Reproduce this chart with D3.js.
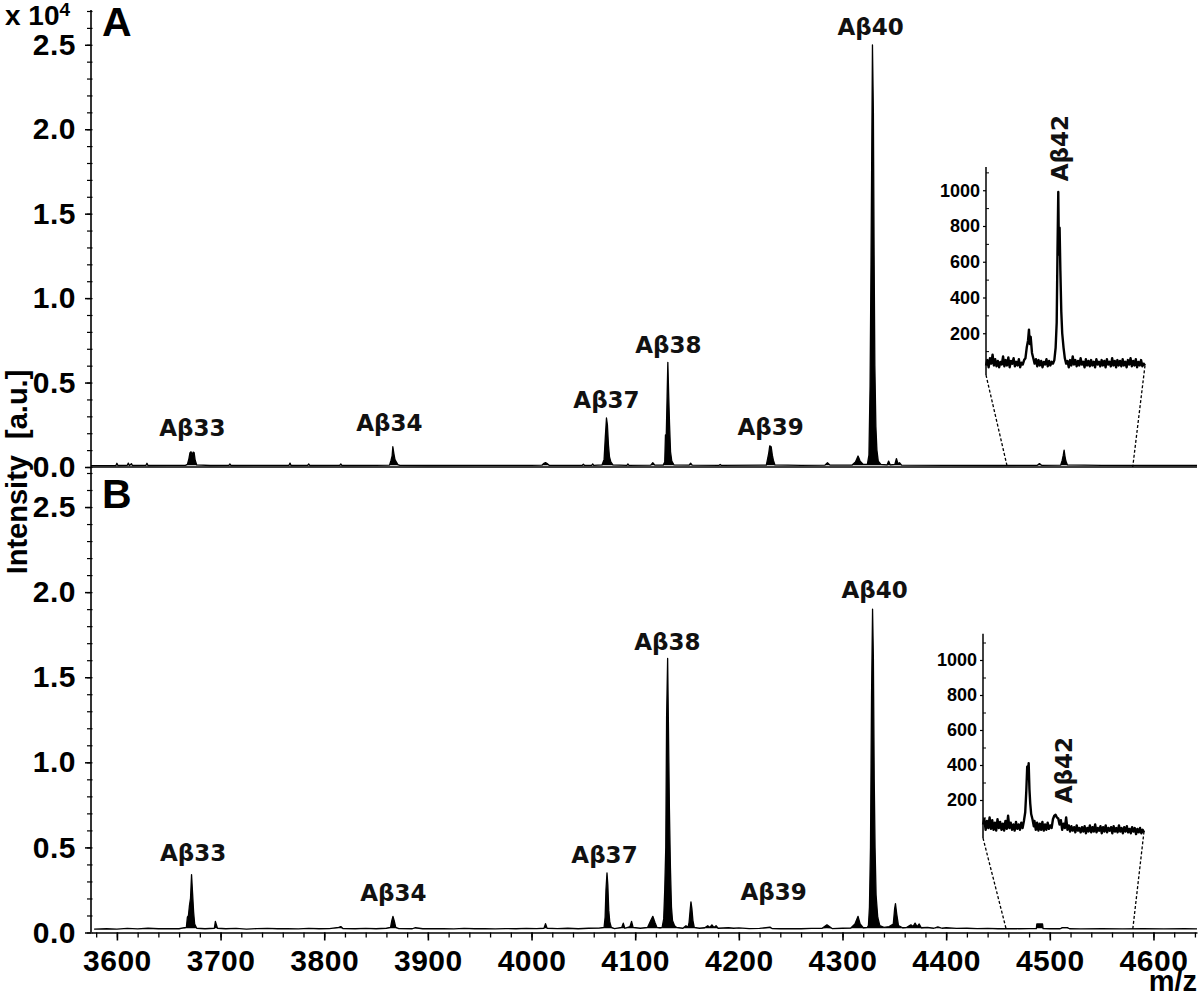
<!DOCTYPE html>
<html><head><meta charset="utf-8">
<script src="https://cdn.jsdelivr.net/npm/d3@7"></script>
<style>body{margin:0;background:#fff}svg{display:block}</style>
</head><body>
<svg id="c" width="1200" height="999"></svg>
<script>
// ---------- data ----------
const mzTicks = [3600,3700,3800,3900,4000,4100,4200,4300,4400,4500,4600];
const mzMinorTicks = d3.range(3580, 4641, 20);
const intensityTicks = [0,5000,10000,15000,20000,25000];
const intensityMinorTicks = d3.range(0, 27001, 1000);
const insetTicks = [200,400,600,800,1000];
const insetMinorTicks = [100,300,500,700,900,1100];

// panel A spectrum [m/z, counts]
const spectrumA = [
[3575,80],[3599,90],[3600,220],[3601,90],[3610,100],[3611,230],[3612,90],[3614,200],[3615,90],[3628,100],[3629,220],[3630,90],[3650,100],[3666,100],
[3668,150],[3669.5,500],[3670.5,850],[3671.5,900],[3672.5,700],[3673.5,880],[3674.5,850],[3675.5,400],[3677,120],
[3690,90],[3708,100],[3709,180],[3710,90],[3766,100],[3767,230],[3768,90],[3784,100],[3785,180],[3786,90],[3815,100],[3816,180],[3817,90],[3850,100],
[3863,110],[3864.5,400],[3865.5,650],[3866.2,1200],[3867.2,800],[3868.2,450],[3869.5,300],[3871,140],[3873,100],
[3900,90],[3950,100],[4000,100],[4010,110],[4012,220],[4013.5,260],[4015,200],[4017,100],[4049,100],[4050,160],[4051,100],[4058,100],[4059,180],[4060,100],
[4068,120],[4070,450],[4071.2,1800],[4072.3,2900],[4073.2,2500],[4074.2,1300],[4075.2,600],[4076.5,300],[4078.5,120],
[4092,100],[4093,180],[4094,100],[4115,110],[4117,250],[4119,110],
[4127,110],[4128.5,300],[4129.2,1900],[4130,1900],[4130.8,4200],[4131.5,6200],[4132.3,4300],[4133.1,2600],[4134.1,900],[4135.3,350],[4137.5,120],
[4152,110],[4153.5,220],[4155,110],[4181,100],[4182,150],[4183,100],
[4226.5,110],[4227.8,500],[4228.8,800],[4229.8,1250],[4231.2,1200],[4232.3,700],[4233.3,400],[4234.8,120],
[4260,100],[4283,110],[4285.5,250],[4288,110],[4309,110],[4312.5,300],[4315,650],[4317,350],[4320,150],
[4324,150],[4325.5,700],[4326.6,4800],[4327.5,12000],[4328.9,25000],[4329.8,21000],[4330.5,12500],[4331.2,6000],[4332.2,2400],[4333.2,1000],[4334.5,350],[4337,150],
[4343,120],[4344.5,350],[4346,130],[4350.5,150],[4352,500],[4353.5,200],[4355,250],[4357,110],
[4400,100],[4450,90],[4488,100],[4490,200],[4492,100],
[4510.5,110],[4512,400],[4513,700],[4513.8,1000],[4514.6,650],[4515.5,350],[4517,120],
[4550,100],[4600,90],[4642,90]
];

// panel B spectrum [m/z, counts]
const spectrumB = [
[3578,200],[3590,220],[3600,200],[3610,240],[3620,210],[3630,250],[3640,220],[3650,230],[3660,220],[3665,280],
[3667,300],[3668,900],[3669,1000],[3670,1600],[3671,2000],[3672,3400],[3673,2300],[3674,1200],[3675,500],[3677,250],
[3685,220],[3694,250],[3695,650],[3697,250],[3705,220],[3715,240],[3725,200],[3735,230],[3745,240],[3755,220],[3765,230],[3775,210],[3785,240],[3795,220],[3805,230],[3814,300],[3816,350],[3818,230],[3830,220],[3840,240],[3850,220],[3860,250],
[3864,300],[3865.2,700],[3866.3,950],[3867.5,700],[3869,300],[3872,230],
[3885,220],[3888,280],[3895,220],[3905,220],[3915,230],[3925,210],[3935,240],[3945,220],[3955,230],[3965,210],[3975,230],[3985,220],[3995,240],[4005,230],
[4012,250],[4013.5,520],[4015,250],[4025,230],[4035,250],[4045,220],[4055,250],[4065,260],
[4070,300],[4071,900],[4071.8,2500],[4072.8,3500],[4073.6,2800],[4074.5,1300],[4075.5,600],[4077,300],
[4080,230],[4087,300],[4088.5,550],[4090,250],[4095,350],[4096.5,650],[4098,300],[4105,250],[4112,300],[4115,700],[4117,950],[4119,600],[4121,300],[4124,280],
[4126,300],[4127.5,800],[4128.5,2500],[4129.5,5000],[4130.3,12600],[4131.3,16100],[4132.1,12000],[4133,7300],[4134,3800],[4135,1500],[4136,700],[4138,400],[4140,300],[4146,250],[4149,400],[4151,300],
[4152,600],[4153,1300],[4153.8,1800],[4154.7,1400],[4155.7,700],[4157,300],
[4162,250],[4167,280],[4170,400],[4172,300],[4174,450],[4176,300],[4178,400],[4180,250],[4190,280],[4195,250],[4200,270],[4210,230],[4220,240],[4230,320],[4232,230],[4240,220],[4250,230],[4260,220],[4270,240],
[4280,240],[4285,450],[4290,230],[4300,250],[4308,260],[4312,500],[4315,950],[4317,500],[4320,280],[4324,300],
[4325,400],[4326,1500],[4327,5000],[4328,13800],[4329,19000],[4329.8,16100],[4330.6,9000],[4331.4,5000],[4332.4,2200],[4334,900],[4336,400],[4340,300],[4345,350],
[4349,500],[4350.3,1400],[4351.1,1700],[4352.3,1100],[4354,400],[4358,280],[4362,300],[4366,450],[4368,350],[4370,550],[4372,350],[4374,500],[4376,280],[4382,300],[4388,250],[4392,330],[4396,250],[4400,280],[4410,240],[4420,250],[4430,230],[4440,240],[4450,220],[4460,230],[4470,220],[4480,230],
[4487,230],[4487.5,500],[4493,500],[4493.5,230],[4500,220],[4510,220],[4512,290],[4517,290],[4519,220],
[4530,210],[4550,220],[4570,210],[4590,220],[4610,210],[4630,220],[4642,210]
];

// inset A (zoom of 4459-4580, counts)
const insetA = [
[4459,20],[4460,50],[4461,10],[4462,60],[4463,30],[4464,80],[4465,20],[4466,55],[4467,15],[4468,45],[4469,10],[4470,40],[4471,25],[4472,70],[4473,15],[4474,50],[4475,20],[4476,65],[4477,10],[4478,45],[4479,30],[4480,60],[4481,15],[4482,40],[4483,20],[4484,55],[4485,10],[4486,35],[4487,25],[4488,50],[4489,60],
[4490,120],[4491,160],[4491.7,220],[4492.3,140],[4493,180],[4494,90],[4495,60],[4496,30],[4497,55],[4498,15],[4499,50],[4500,20],[4501,45],[4502,10],[4503,40],[4504,25],[4505,55],[4506,15],[4507,45],[4508,20],[4509,40],[4510,30],[4511,50],
[4512,120],[4512.8,260],[4513.4,650],[4514,990],[4514.5,640],[4515,790],[4515.6,550],[4516.3,320],[4517,200],[4518,120],[4519,60],
[4520,30],[4521,45],[4522,10],[4523,50],[4524,20],[4525,70],[4526,25],[4527,50],[4528,15],[4529,45],[4530,20],[4531,60],[4532,25],[4533,40],[4534,10],[4535,55],[4536,20],[4537,45],[4538,15],[4539,50],[4540,20],[4541,40],[4542,10],[4543,55],[4544,25],[4545,40],[4546,15],[4547,50],[4548,20],[4549,45],[4550,10],
[4551,55],[4552,25],[4553,40],[4554,15],[4555,60],[4556,20],[4557,45],[4558,10],[4559,50],[4560,20],[4561,45],[4562,15],[4563,55],[4564,20],[4565,40],[4566,10],[4567,50],[4568,25],[4569,60],[4570,15],[4571,45],[4572,20],[4573,55],[4574,10],[4575,40],[4576,20],[4577,50],[4578,15],[4579,30],[4580,20]
];

// inset B (zoom of 4458-4581, counts)
const insetB = [
[4458,60],[4459,90],[4460,30],[4461,80],[4462,40],[4463,100],[4464,35],[4465,85],[4466,30],[4467,70],[4468,25],[4469,90],[4470,40],[4471,75],[4472,30],[4473,65],[4474,25],[4475,80],[4476,35],[4477,110],[4478,40],[4479,70],[4480,30],[4481,60],[4482,25],[4483,75],[4484,35],[4485,60],[4486,30],[4487,70],[4488,40],[4489,80],
[4490,130],[4490.8,250],[4491.5,390],[4492,330],[4492.6,410],[4493.2,260],[4493.8,180],[4494.5,120],[4495.5,90],[4496.5,50],
[4497,80],[4498,30],[4499,70],[4500,25],[4501,65],[4502,30],[4503,75],[4504,25],[4505,60],[4506,30],[4507,70],[4508,35],[4509,55],[4510,40],
[4511,90],[4512,110],[4513,115],[4514,100],[4515,95],[4516,60],[4517,85],[4518,30],[4519,65],[4520,40],[4521,100],[4522,30],[4523,55],[4524,20],[4525,50],[4526,25],[4527,45],[4528,15],[4529,55],[4530,25],[4531,40],[4532,15],[4533,45],[4534,20],[4535,50],[4536,10],[4537,40],[4538,20],[4539,55],[4540,15],
[4541,45],[4542,20],[4543,60],[4544,15],[4545,40],[4546,25],[4547,50],[4548,10],[4549,45],[4550,20],[4551,55],[4552,15],[4553,40],[4554,25],[4555,45],[4556,10],[4557,50],[4558,20],[4559,40],[4560,15],[4561,55],[4562,20],[4563,40],[4564,10],[4565,45],[4566,20],[4567,50],[4568,15],[4569,35],[4570,10],[4571,45],[4572,20],[4573,40],[4574,5],[4575,35],[4576,15],[4577,40],[4578,10],[4579,30],[4580,15]
];

// peak labels [text, m/z, counts at label baseline]
const labelsA = [["Aβ33",3672.7,1840],["Aβ34",3862.8,2130],["Aβ37",4072.3,3500],["Aβ38",4132.1,6750],["Aβ39",4230.6,1900],["Aβ40",4327.1,25600]];
const labelsB = [["Aβ33",3673.6,4200],["Aβ34",3866.7,1850],["Aβ37",4070.4,4080],["Aβ38",4131.1,16600],["Aβ39",4233.5,1910],["Aβ40",4331,19650]];
// inset label [text, m/z, counts] (rotated)
const insetLabelA = ["Aβ42", 4521.4, 1235];
const insetLabelB = ["Aβ42", 4525.2, 371];

// ---------- drawing ----------
const svg = d3.select("#c");
const AX = "Liberation Sans, Arial, sans-serif";
const LF = "DejaVu Sans, Verdana, sans-serif";

const x = d3.scaleLinear().domain([3575, 4642]).range([91, 1197]);
const yA = d3.scaleLinear().domain([0, 27000]).range([467, 11]);
const yB = d3.scaleLinear().domain([0, 27000]).range([932.5, 473]);

function drawSpectrum(data, y, base) {
  const area = d3.area().x(d => x(d[0])).y0(d => y(Math.min(d[1], base))).y1(d => y(d[1]));
  svg.append("path").datum(data).attr("d", area).attr("fill", "#000");
  const line = d3.line().x(d => x(d[0])).y(d => y(d[1]));
  svg.append("path").datum(data).attr("d", line)
    .attr("fill", "none").attr("stroke", "#000").attr("stroke-width", 1.3).attr("stroke-linejoin", "round");
}

function yAxis(y) {
  const gMinor = svg.append("g").attr("transform", `translate(${x(3575)},0)`)
    .call(d3.axisLeft(y).tickValues(intensityMinorTicks).tickSize(4).tickSizeOuter(0).tickFormat(""));
  gMinor.select(".domain").remove();
  gMinor.selectAll("line").attr("stroke-width", 1.2).attr("x2", -4).attr("x1", 1.5);
  const g = svg.append("g").attr("transform", `translate(${x(3575)},0)`)
    .call(d3.axisLeft(y).tickValues(intensityTicks).tickSize(6).tickSizeOuter(0).tickPadding(9)
      .tickFormat(d => (d / 10000).toFixed(1)));
  g.select(".domain").remove();
  g.selectAll("line").attr("stroke-width", 1.5);
  g.selectAll("text").attr("font-family", AX).attr("font-weight", "bold").attr("font-size", 30)
    .attr("letter-spacing", 0.5).attr("fill", "#000");
}

// spectra
drawSpectrum(spectrumA, yA, 100);
drawSpectrum(spectrumB, yB, 250);

// panel A zero line
svg.append("line").attr("x1", x(3575)).attr("x2", x(4642)).attr("y1", yA(0)).attr("y2", yA(0))
  .attr("stroke", "#000").attr("stroke-width", 1.5);

// y axes
yAxis(yA);
yAxis(yB);
svg.append("line").attr("x1", x(3575)).attr("x2", x(3575)).attr("y1", yA.range()[1] - 1).attr("y2", yB(0))
  .attr("stroke", "#000").attr("stroke-width", 1.6);

// x axis (bottom)
const gxm = svg.append("g").attr("transform", `translate(0,${yB(0)})`)
  .call(d3.axisBottom(x).tickValues(mzMinorTicks).tickSize(5).tickSizeOuter(0).tickFormat(""));
gxm.select(".domain").attr("stroke-width", 1.6);
gxm.selectAll("line").attr("stroke-width", 1.3);
const gx = svg.append("g").attr("transform", `translate(0,${yB(0)})`)
  .call(d3.axisBottom(x).tickValues(mzTicks).tickSize(8).tickSizeOuter(0).tickPadding(9).tickFormat(d3.format("d")));
gx.select(".domain").remove();
gx.selectAll("line").attr("stroke-width", 1.6);
gx.selectAll("text").attr("font-family", AX).attr("font-weight", "bold").attr("font-size", 30)
  .attr("letter-spacing", 0.5).attr("fill", "#000");

// axis titles
svg.append("text").attr("x", 1197).attr("y", 991).attr("text-anchor", "end")
  .attr("font-family", AX).attr("font-weight", "bold").attr("font-size", 29).text("m/z");
svg.append("text").attr("transform", "translate(27,472) rotate(-90)").attr("text-anchor", "middle")
  .attr("font-family", AX).attr("font-weight", "bold").attr("font-size", 29)
  .text("Intensity\u00A0\u00A0[a.u.]");
const exp = svg.append("text").attr("x", 5).attr("y", 25)
  .attr("font-family", AX).attr("font-weight", "bold").attr("font-size", 28);
exp.append("tspan").text("x 10");
exp.append("tspan").attr("dy", -9).attr("font-size", 19).text("4");

// panel letters
svg.append("text").attr("x", 102).attr("y", 36).attr("font-family", AX).attr("font-weight", "bold").attr("font-size", 41).text("A");
svg.append("text").attr("x", 102).attr("y", 508).attr("font-family", AX).attr("font-weight", "bold").attr("font-size", 41).text("B");

// peak labels
function peakLabels(list, y) {
  svg.append("g").selectAll("text").data(list).join("text")
    .attr("x", d => x(d[1])).attr("y", d => y(d[2])).attr("text-anchor", "middle")
    .attr("font-family", LF).attr("font-weight", "bold").attr("font-size", 23).attr("fill", "#111")
    .text(d => d[0]);
}
peakLabels(labelsA, yA);
peakLabels(labelsB, yB);

// insets
function inset(data, xr, yTop0, yTopVal, yBottom, axisBottom, label, lineY) {
  const ix = d3.scaleLinear().domain([data[0][0], data[data.length - 1][0]]).range(xr);
  const iy = d3.scaleLinear().domain([0, yTopVal]).range([yTop0, yBottom]);
  // connectors
  svg.append("line").attr("x1", xr[0]).attr("y1", axisBottom).attr("x2", x(ix.domain()[0])).attr("y2", lineY)
    .attr("stroke", "#000").attr("stroke-width", 1.3).attr("stroke-dasharray", "3,2");
  svg.append("line").attr("x1", xr[1]).attr("y1", iy(20)).attr("x2", x(ix.domain()[1])).attr("y2", lineY)
    .attr("stroke", "#000").attr("stroke-width", 1.3).attr("stroke-dasharray", "3,2");
  // axis
  svg.append("line").attr("x1", xr[0]).attr("x2", xr[0]).attr("y1", yBottom).attr("y2", axisBottom)
    .attr("stroke", "#000").attr("stroke-width", 1.5);
  const gm = svg.append("g").attr("transform", `translate(${xr[0]},0)`)
    .call(d3.axisRight(iy).tickValues(insetMinorTicks).tickSize(3).tickFormat(""));
  gm.select(".domain").remove();
  const g = svg.append("g").attr("transform", `translate(${xr[0]},0)`)
    .call(d3.axisLeft(iy).tickValues(insetTicks).tickSize(3).tickPadding(3).tickFormat(d3.format("d")));
  g.select(".domain").remove();
  g.selectAll("line").attr("stroke-width", 1.2);
  g.selectAll("text").attr("font-family", AX).attr("font-weight", "bold").attr("font-size", 18).attr("fill", "#000");
  // data
  svg.append("path").datum(data).attr("d", d3.line().x(d => ix(d[0])).y(d => iy(d[1])))
    .attr("fill", "none").attr("stroke", "#000").attr("stroke-width", 2.4).attr("stroke-linejoin", "round");
  // label
  svg.append("text").attr("transform", `translate(${ix(label[1])},${iy(label[2])}) rotate(-90)`)
    .attr("text-anchor", "middle").attr("font-family", LF).attr("font-weight", "bold").attr("font-size", 23)
    .attr("fill", "#111").text(label[0]);
}
inset(insetA, [986, 1145], 369, 1130, 167, 375, insetLabelA, yA(0));
inset(insetB, [983, 1144], 835, 1150, 633.75, 838, insetLabelB, yB(0) - 3);
</script>
</body></html>
